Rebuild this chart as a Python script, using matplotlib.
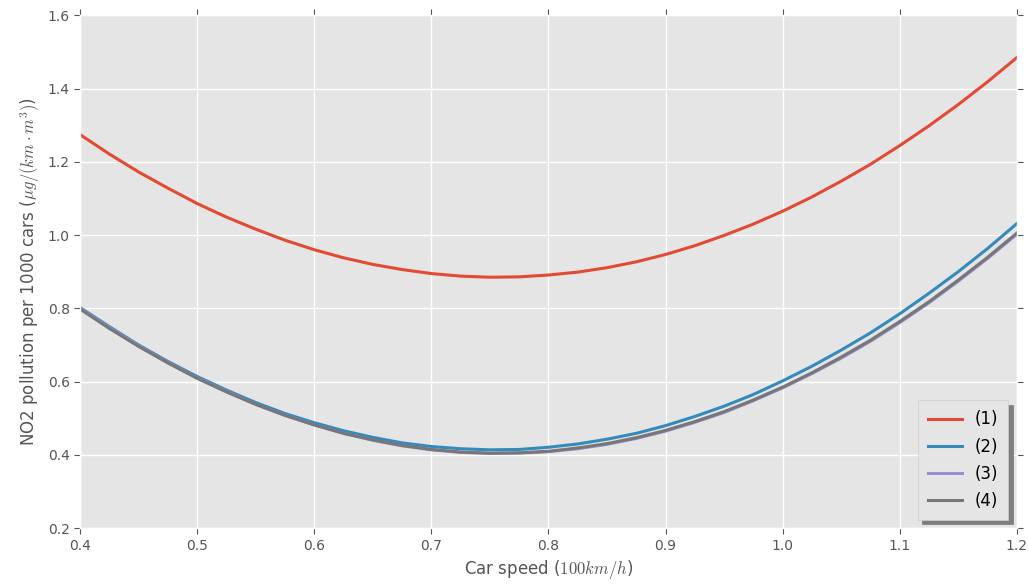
import matplotlib
matplotlib.use("Agg")
import matplotlib.pyplot as plt

plt.style.use("ggplot")
plt.rcParams["mathtext.fontset"] = "cm"

speed = [0.400, 0.425, 0.450, 0.475, 0.500, 0.525, 0.550, 0.575, 0.600,
         0.625, 0.650, 0.675, 0.700, 0.725, 0.750, 0.775, 0.800, 0.825,
         0.850, 0.875, 0.900, 0.925, 0.950, 0.975, 1.000, 1.025, 1.050,
         1.075, 1.100, 1.125, 1.150, 1.175, 1.200]

no2_1 = [1.274, 1.221, 1.172, 1.128, 1.086, 1.049, 1.016, 0.986, 0.960,
         0.938, 0.920, 0.906, 0.895, 0.888, 0.885, 0.886, 0.891, 0.899,
         0.911, 0.927, 0.947, 0.971, 0.999, 1.030, 1.065, 1.104, 1.147,
         1.193, 1.244, 1.298, 1.356, 1.418, 1.484]
no2_2 = [0.802, 0.750, 0.700, 0.655, 0.614, 0.577, 0.543, 0.513, 0.488,
         0.466, 0.448, 0.433, 0.423, 0.417, 0.414, 0.415, 0.421, 0.430,
         0.443, 0.459, 0.480, 0.505, 0.533, 0.565, 0.602, 0.642, 0.686,
         0.733, 0.785, 0.841, 0.900, 0.963, 1.031]
no2_3 = [0.800, 0.747, 0.698, 0.652, 0.610, 0.573, 0.538, 0.508, 0.482,
         0.459, 0.440, 0.425, 0.414, 0.407, 0.404, 0.405, 0.409, 0.417,
         0.429, 0.445, 0.465, 0.489, 0.516, 0.548, 0.583, 0.622, 0.664,
         0.710, 0.761, 0.815, 0.874, 0.936, 1.002]
no2_4 = [0.798, 0.745, 0.696, 0.651, 0.609, 0.572, 0.538, 0.508, 0.482,
         0.459, 0.441, 0.426, 0.415, 0.408, 0.405, 0.406, 0.410, 0.419,
         0.431, 0.447, 0.467, 0.491, 0.518, 0.550, 0.585, 0.624, 0.667,
         0.713, 0.764, 0.818, 0.877, 0.939, 1.005]

labels = ["(1)", "(2)", "(3)", "(4)"]
colors = ["#E24A33", "#348ABD", "#988ED5", "#777777"]

fig = plt.figure(figsize=(10.28, 5.85), dpi=100)
ax = fig.add_axes([0.078, 0.097, 0.911, 0.877])

for ys, lab, col in zip([no2_1, no2_2, no2_3, no2_4], labels, colors):
    ax.plot(speed, ys, color=col, lw=2.2, label=lab)

ax.set_xlim(0.4, 1.2)
ax.set_ylim(0.2, 1.6)
ax.set_xticks([0.4, 0.5, 0.6, 0.7, 0.8, 0.9, 1.0, 1.1, 1.2])
ax.set_yticks([0.2, 0.4, 0.6, 0.8, 1.0, 1.2, 1.4, 1.6])
ax.tick_params(direction="out", top=True, right=True, length=4,
               color="#555555", labelcolor="#555555", labelsize=10)
ax.grid(True, color="white", lw=1)

ax.set_xlabel("Car speed ($100km/h$)", fontsize=12, color="#555555")
ax.set_ylabel("NO2 pollution per 1000 cars ($\\mu g/(km \\cdot m^3)$)",
              fontsize=12, color="#555555")

ax.legend(loc="lower right", fontsize=12, fancybox=False,
          shadow={"ox": 3, "oy": -3, "shade": 0.5, "alpha": 0.9},
          framealpha=1, handlelength=2.0, labelspacing=0.55,
          borderpad=0.6)

fig.savefig("out.png", dpi=100)
